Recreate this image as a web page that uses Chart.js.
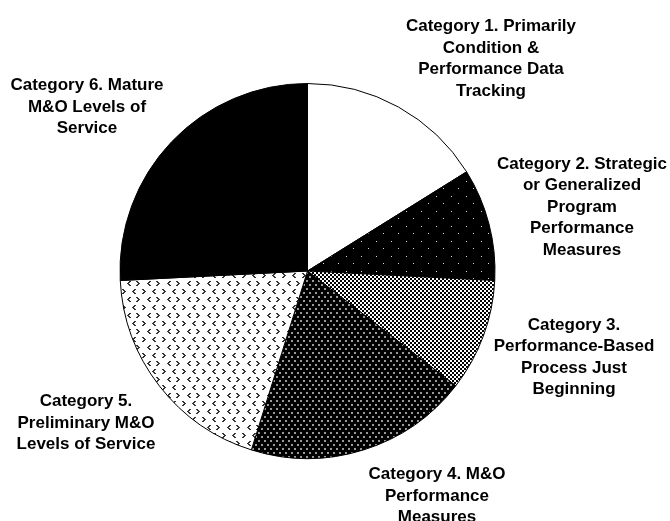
<!DOCTYPE html>
<html lang="en">
<head>
    <meta charset="UTF-8">
    <title>M&amp;O Performance Measure Categories</title>
    <script src="https://cdn.jsdelivr.net/npm/chart.js@4.4.0/dist/chart.umd.min.js"></script>
    <style>
        html, body { margin: 0; padding: 0; background: #fff; }
        #wrap { width: 670px; height: 521px; }
    </style>
</head>
<body>
    <div id="wrap"><canvas id="pieChart" width="670" height="521"></canvas></div>

    <script>
        // Categories (label lines) and number of agencies in each
        const categoryLabels = [
            ['Category 1. Primarily', 'Condition &', 'Performance Data', 'Tracking'],
            ['Category 2. Strategic', 'or Generalized', 'Program', 'Performance', 'Measures'],
            ['Category 3.', 'Performance-Based', 'Process Just', 'Beginning'],
            ['Category 4. M&O', 'Performance', 'Measures'],
            ['Category 5.', 'Preliminary M&O', 'Levels of Service'],
            ['Category 6. Mature', 'M&O Levels of', 'Service']
        ];
        const categoryCounts = [5, 3, 3, 6, 6, 8];

        // where each label block sits (centre x, first baseline y)
        const labelAnchors = [
            { x: 491, y: 31 },
            { x: 582, y: 168.5 },
            { x: 574, y: 329.5 },
            { x: 437, y: 479 },
            { x: 86, y: 406 },
            { x: 87, y: 90 }
        ];
        const lineHeight = 21.5;

        // small helper to build a repeating fill from a tiny tile
        function makePattern(w, h, bg, draw) {
            const c = document.createElement('canvas');
            c.width = w; c.height = h;
            const g = c.getContext('2d');
            g.fillStyle = bg;
            g.fillRect(0, 0, w, h);
            draw(g);
            return g.createPattern(c, 'repeat');
        }

        const fills = [
            '#ffffff',
            // sparse white dots on black
            makePattern(15, 15, '#000', g => {
                g.fillStyle = '#ddd';
                g.fillRect(1, 1, 1, 1);
                g.fillRect(8, 8, 1, 1);
            }),
            // fine checkerboard
            makePattern(4, 4, '#fff', g => {
                g.fillStyle = '#000';
                g.fillRect(0, 0, 2, 2);
                g.fillRect(2, 2, 2, 2);
            }),
            // dense grey dots on black
            makePattern(6, 8, '#000', g => {
                g.fillStyle = '#999';
                g.fillRect(0, 0, 2, 2);
                g.fillRect(3, 4, 2, 2);
            }),
            // little grey chevrons on white
            makePattern(20, 16, '#fff', g => {
                g.fillStyle = '#333';
                const right = (x, y) => { g.fillRect(x, y, 2, 1); g.fillRect(x + 1, y + 1, 2, 1); g.fillRect(x + 2, y + 2, 2, 1); g.fillRect(x + 1, y + 3, 2, 1); g.fillRect(x, y + 4, 2, 1); };
                const left = (x, y) => { g.fillRect(x + 2, y, 2, 1); g.fillRect(x + 1, y + 1, 2, 1); g.fillRect(x, y + 2, 2, 1); g.fillRect(x + 1, y + 3, 2, 1); g.fillRect(x + 2, y + 4, 2, 1); };
                right(2, 1);
                left(12, 1);
                left(7, 9);
                right(16, 9);
            }),
            '#000000'
        ];

        const labelPlugin = {
            id: 'blockLabels',
            afterDraw(chart) {
                const ctx = chart.ctx;
                ctx.save();
                ctx.font = 'bold 17px "Liberation Sans", Arial, sans-serif';
                ctx.fillStyle = '#000';
                ctx.textAlign = 'center';
                ctx.textBaseline = 'alphabetic';
                categoryLabels.forEach((lines, i) => {
                    const a = labelAnchors[i];
                    lines.forEach((t, j) => ctx.fillText(t, a.x, a.y + j * lineHeight));
                });
                ctx.restore();
            }
        };

        new Chart(document.getElementById('pieChart'), {
            type: 'pie',
            data: {
                labels: categoryLabels.map(l => l.join(' ')),
                datasets: [{
                    data: categoryCounts,
                    backgroundColor: fills,
                    borderColor: '#000',
                    borderWidth: 1
                }]
            },
            options: {
                responsive: false,
                animation: false,
                layout: { padding: { left: 118, right: 173, top: 83, bottom: 62 } },
                plugins: {
                    legend: { display: false },
                    tooltip: { enabled: false }
                }
            },
            plugins: [labelPlugin]
        });
    </script>
</body>
</html>
